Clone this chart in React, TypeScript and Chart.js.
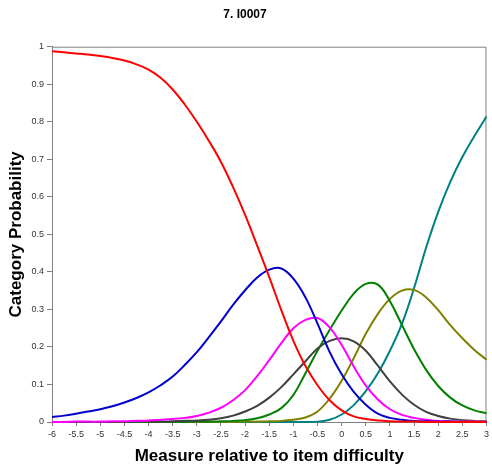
import React, { useEffect, useRef } from "react";
import { Chart, registerables } from "chart.js";

Chart.register(...registerables);

const titleText = "7. I0007";
const xTitle = "Measure relative to item difficulty";
const yTitle = "Category Probability";

const xValues = [
  -6, -5.75, -5.5, -5.25, -5, -4.75, -4.5, -4.25, -4, -3.75, -3.5, -3.25, -3,
  -2.75, -2.5, -2.25, -2, -1.75, -1.5, -1.25, -1, -0.75, -0.5, -0.25, 0, 0.25,
  0.5, 0.75, 1, 1.25, 1.5, 1.75, 2, 2.25, 2.5, 2.75, 3,
];

const cat0 = [
  0.988, 0.985, 0.982, 0.979, 0.975, 0.97, 0.963, 0.953, 0.939, 0.917, 0.886,
  0.846, 0.8, 0.749, 0.693, 0.626, 0.552, 0.47, 0.386, 0.298, 0.216, 0.149,
  0.098, 0.058, 0.031, 0.015, 0.008, 0.004, 0.002, 0.001, 0.001, 0, 0, 0, 0, 0,
  0,
];
const cat1 = [
  0.013, 0.017, 0.022, 0.028, 0.034, 0.042, 0.052, 0.064, 0.079, 0.098, 0.121,
  0.152, 0.186, 0.226, 0.268, 0.312, 0.351, 0.385, 0.406, 0.409, 0.382, 0.332,
  0.262, 0.187, 0.127, 0.08, 0.046, 0.022, 0.011, 0.006, 0.003, 0.002, 0.001,
  0.001, 0, 0, 0,
];
const cat2 = [
  0, 0, 0.001, 0.001, 0.001, 0.002, 0.002, 0.003, 0.004, 0.006, 0.008, 0.011,
  0.016, 0.025, 0.038, 0.058, 0.085, 0.122, 0.165, 0.21, 0.25, 0.272, 0.277,
  0.252, 0.205, 0.148, 0.097, 0.06, 0.034, 0.019, 0.011, 0.006, 0.003, 0.002,
  0.001, 0.001, 0,
];
const cat3 = [
  0, 0, 0, 0, 0, 0, 0, 0.001, 0.001, 0.001, 0.002, 0.003, 0.004, 0.006, 0.01,
  0.017, 0.028, 0.043, 0.065, 0.093, 0.127, 0.162, 0.196, 0.216, 0.223, 0.215,
  0.19, 0.15, 0.108, 0.073, 0.046, 0.027, 0.016, 0.009, 0.005, 0.003, 0.002,
];
const cat4 = [
  0, 0, 0, 0, 0, 0, 0, 0, 0, 0, 0, 0, 0.001, 0.001, 0.002, 0.003, 0.005, 0.01,
  0.02, 0.037, 0.072, 0.13, 0.19, 0.245, 0.297, 0.342, 0.368, 0.366, 0.322,
  0.258, 0.194, 0.139, 0.096, 0.065, 0.044, 0.031, 0.023,
];
const cat5 = [
  0, 0, 0, 0, 0, 0, 0, 0, 0, 0, 0, 0, 0, 0, 0, 0, 0.001, 0.001, 0.002, 0.003,
  0.006, 0.012, 0.028, 0.062, 0.11, 0.17, 0.235, 0.288, 0.328, 0.35, 0.352,
  0.332, 0.298, 0.258, 0.223, 0.192, 0.166,
];
const cat6 = [
  0, 0, 0, 0, 0, 0, 0, 0, 0, 0, 0, 0, 0, 0, 0, 0, 0, 0, 0, 0, 0, 0, 0.001,
  0.006, 0.02, 0.045, 0.082, 0.13, 0.19, 0.262, 0.357, 0.465, 0.56, 0.64,
  0.706, 0.762, 0.814,
];

const seriesValues = [cat0, cat1, cat2, cat3, cat4, cat5, cat6];
const seriesNames = ["0", "1", "2", "3", "4", "5", "6"];
const seriesColors = [
  "#ff0000",
  "#0000cc",
  "#ff00ff",
  "#404040",
  "#008000",
  "#808000",
  "#008080",
];

const FONT = "'Liberation Sans', Arial, Helvetica, sans-serif";

const fmt = (v: number | string) => String(Math.round(Number(v) * 100) / 100);

export default function App() {
  const ref = useRef<HTMLCanvasElement>(null);

  useEffect(() => {
    document.body.style.margin = "0";
    const canvas = ref.current;
    if (!canvas) return;

    const borderPlugin = {
      id: "plotBorder",
      beforeDatasetsDraw(chart: any) {
        const { ctx, chartArea: a } = chart;
        ctx.save();
        ctx.strokeStyle = "#808080";
        ctx.lineWidth = 1;
        ctx.beginPath();
        ctx.moveTo(a.left, a.top + 0.5);
        ctx.lineTo(a.right - 0.5, a.top + 0.5);
        ctx.lineTo(a.right - 0.5, a.bottom);
        ctx.stroke();
        ctx.restore();
      },
    };

    const chart = new Chart(canvas, {
      type: "line",
      data: {
        datasets: seriesValues.map((vals, i) => ({
          label: seriesNames[i],
          data: xValues.map((x, j) => ({ x, y: vals[j] })),
          borderColor: seriesColors[i],
          backgroundColor: seriesColors[i],
          borderWidth: 2,
          pointRadius: 0,
          fill: false,
          tension: 0.4,
          clip: 4,
        })),
      },
      options: {
        responsive: true,
        maintainAspectRatio: false,
        animation: false,
        layout: { padding: { left: 0, right: 2, top: 0, bottom: 0 } },
        font: { family: FONT },
        plugins: {
          legend: { display: false },
          tooltip: { enabled: false },
          title: {
            display: true,
            text: titleText,
            color: "#000",
            font: { family: FONT, size: 12, weight: "bold" },
            padding: { top: 7, bottom: 25.3 },
          },
        },
        scales: {
          x: {
            type: "linear",
            min: -6,
            max: 3,
            ticks: {
              stepSize: 0.5,
              autoSkip: false,
              maxRotation: 0,
              color: "#333",
              padding: 3,
              font: { family: FONT, size: 9 },
              callback: (v: any) => fmt(v),
            },
            grid: {
              display: true,
              drawOnChartArea: false,
              drawTicks: true,
              tickLength: 4,
              color: "#808080",
            },
            border: { display: true, color: "#808080", width: 1 },
            title: {
              display: true,
              text: xTitle,
              color: "#000",
              font: { family: FONT, size: 17, weight: "bold" },
              padding: { top: 0, bottom: 1.5 },
            },
            afterFit: (s: any) => {
              s.height = 46;
            },
          },
          y: {
            type: "linear",
            min: 0,
            max: 1,
            ticks: {
              stepSize: 0.1,
              color: "#333",
              padding: 3,
              font: { family: FONT, size: 9 },
              callback: (v: any) => fmt(v),
            },
            grid: {
              display: true,
              drawOnChartArea: false,
              drawTicks: true,
              tickLength: 5,
              color: "#808080",
            },
            border: { display: true, color: "#808080", width: 1 },
            title: {
              display: true,
              text: yTitle,
              color: "#000",
              font: { family: FONT, size: 17, weight: "bold" },
              padding: { top: 6, bottom: 0 },
            },
            afterFit: (s: any) => {
              s.width = 52;
            },
          },
        },
      },
      plugins: [borderPlugin],
    });

    return () => chart.destroy();
  }, []);

  return (
    <div style={{ width: 492, height: 468, position: "relative" }}>
      <canvas ref={ref} />
    </div>
  );
}
